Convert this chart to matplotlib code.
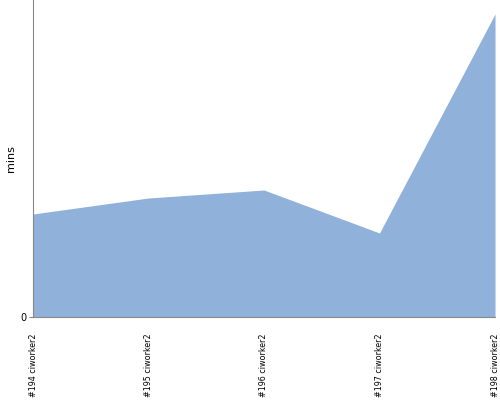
import matplotlib
matplotlib.use('Agg')
import matplotlib.pyplot as plt

# Build times per job
builds = ['#194 ciworker2', '#195 ciworker2', '#196 ciworker2', '#197 ciworker2', '#198 ciworker2']
mins = [10.3, 11.9, 12.7, 8.4, 30.3]

fig = plt.figure(figsize=(5, 4), dpi=100)
ax = fig.add_axes([0.066, 0.2075, 0.924, 0.7925])

x = list(range(len(builds)))
ax.fill_between(x, mins, 0, color='#8fb1da', linewidth=0)

ax.set_xlim(0, len(builds) - 1)
ax.set_ylim(0, 31.7)
ax.set_yticks([0])
ax.set_yticklabels(['0'], fontsize=7)
ax.set_xticks(x)
ax.set_xticklabels(builds, rotation=90, fontsize=6.4, fontstretch='condensed')
ax.set_ylabel('mins', fontsize=8, labelpad=3)

for s in ['top', 'right']:
    ax.spines[s].set_visible(False)
for s in ['left', 'bottom']:
    ax.spines[s].set_color('#888888')
    ax.spines[s].set_linewidth(0.8)
ax.tick_params(axis='y', length=3, color='#888888', pad=2)
ax.tick_params(axis='x', length=0, pad=12)

fig.savefig('out.png')
